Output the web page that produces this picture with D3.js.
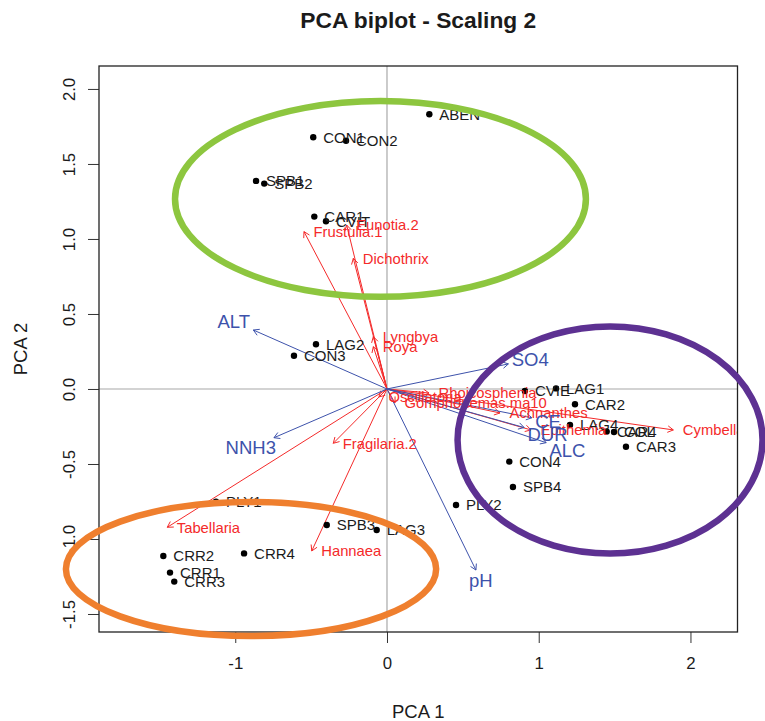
<!DOCTYPE html>
<html>
<head>
<meta charset="utf-8">
<script src="https://cdn.jsdelivr.net/npm/d3@7"></script>
<style>
  body { margin: 0; background: #fff; }
  svg { display: block; font-family: "Liberation Sans", Arial, sans-serif; }
</style>
</head>
<body>
<svg id="chart" width="765" height="721"></svg>
<script>
// ---- Site scores (scaling 2) ----
const siteNames = ["ABEN","CON1","CON2","SPB1","SPB2","CAR1","CVIT","LAG2","CON3",
  "CVIE","LAG1","CAR2","LAG4","CAR4","COL","CAR3","CON4","SPB4","PLY2",
  "PLY1","SPB3","LAG3","CRR2","CRR4","CRR1","CRR3"];
const siteX = [0.279,-0.486,-0.270,-0.863,-0.809,-0.479,-0.402,-0.468,-0.613,
  0.909,1.114,1.239,1.206,1.448,1.496,1.575,0.806,0.830,0.455,
  -1.127,-0.397,-0.068,-1.474,-0.942,-1.430,-1.402];
const siteY = [1.831,1.678,1.655,1.387,1.369,1.149,1.118,0.298,0.222,
  -0.013,0.004,-0.102,-0.240,-0.284,-0.287,-0.385,-0.484,-0.653,-0.773,
  -0.751,-0.907,-0.940,-1.113,-1.096,-1.224,-1.284];

// ---- Species scores (arrows) ----
const speciesNames = ["Frustulia.1","Eunotia.2","Dichothrix","Lyngbya","Roya",
  "Rhoicosphenia","Oscillatoria","Gomphonemas.ma10","Achnanthes","Epithemia",
  "Cymbella","Fragilaria.2","Tabellaria","Hannaea"];
const speciesX = [-0.547,-0.266,-0.222,-0.090,-0.090,
  0.277,-0.053,0.053,0.745,0.949,
  1.887,-0.354,-1.448,-0.496];
const speciesY = [1.049,1.093,0.871,0.349,0.282,
  -0.027,-0.053,-0.093,-0.160,-0.273,
  -0.273,-0.362,-0.922,-1.080];

// ---- Environmental variables (fitted vectors) ----
const envNames = ["ALT","SO4","CE","DUR","ALC","pH","NNH3"];
const envX = [-0.881,0.800,0.955,0.904,1.049,0.586,-0.745];
const envY = [0.393,0.167,-0.192,-0.257,-0.358,-1.207,-0.325];

// ---- Site groups outlined by ellipses (centre and semi-axes in score units) ----
const groupNames = ["alta","calcarea","crr"];
const groupCX = [-0.043,1.470,-0.896];
const groupCY = [1.267,-0.340,-1.200];
const groupRX = [1.354,1.005,1.220];
const groupRY = [0.653,0.757,0.447];
const groupColors = ["#8dc63f","#5d3192","#ef7f2e"];

// ---- Axis ticks ----
const xTicks = [-1, 0, 1, 2];
const yTicks = [-1.5, -1.0, -0.5, 0.0, 0.5, 1.0, 1.5, 2.0];

// ---- Layout ----
const W = 765, H = 721;
const plot = { left: 99, right: 737.5, top: 66, bottom: 632 };
const xDomain = [-1.898, 2.310];
const yDomain = [-1.620, 2.153];

const BLUE = "#3d52ab";
const RED = "#f42a2a";
const INK = "#1b1b1b";

const svg = d3.select("#chart");
svg.append("rect").attr("width", W).attr("height", H).attr("fill", "#fff");

const x = d3.scaleLinear().domain(xDomain).range([plot.left, plot.right]);
const y = d3.scaleLinear().domain(yDomain).range([plot.bottom, plot.top]);

svg.append("defs").append("clipPath").attr("id", "plotClip")
  .append("rect")
  .attr("x", plot.left).attr("y", plot.top)
  .attr("width", plot.right - plot.left).attr("height", plot.bottom - plot.top);

// Title
svg.append("text")
  .attr("x", (plot.left + plot.right) / 2).attr("y", 28)
  .attr("text-anchor", "middle")
  .attr("font-size", 22.8).attr("font-weight", "bold").attr("fill", INK)
  .text("PCA biplot - Scaling 2");

// Axes
const gx = svg.append("g").attr("transform", `translate(0,${plot.bottom})`)
  .call(d3.axisBottom(x).tickValues(xTicks).tickSize(11).tickPadding(14)
    .tickFormat(d => String(d)));
gx.select(".domain").remove();
gx.selectAll(".tick line").attr("stroke", "#333");
gx.selectAll(".tick text").attr("font-size", 16.8).attr("fill", INK)
  .attr("font-family", "Liberation Sans, Arial, sans-serif");

const gy = svg.append("g").attr("transform", `translate(${plot.left},0)`)
  .call(d3.axisLeft(y).tickValues(yTicks).tickSize(11)
    .tickFormat(d => d.toFixed(1)));
gy.select(".domain").remove();
gy.selectAll(".tick line").attr("stroke", "#333");
gy.selectAll(".tick text")
  .attr("x", 0).attr("dy", 0)
  .attr("transform", "translate(-24.5,0) rotate(-90)")
  .attr("text-anchor", "middle")
  .attr("font-size", 16.8).attr("fill", INK)
  .attr("font-family", "Liberation Sans, Arial, sans-serif");

svg.append("text")
  .attr("x", (plot.left + plot.right) / 2).attr("y", 718)
  .attr("text-anchor", "middle").attr("font-size", 18.5).attr("fill", INK)
  .text("PCA 1");
svg.append("text")
  .attr("transform", `translate(27,${(plot.top + plot.bottom) / 2}) rotate(-90)`)
  .attr("text-anchor", "middle").attr("font-size", 18.5).attr("fill", INK)
  .text("PCA 2");

// Plot contents (clipped to the frame)
const g = svg.append("g").attr("clip-path", "url(#plotClip)");

// Reference lines through the origin
g.append("line")
  .attr("x1", plot.left).attr("x2", plot.right)
  .attr("y1", y(0)).attr("y2", y(0))
  .attr("stroke", "#a8a8a8").attr("stroke-width", 1.2);
g.append("line")
  .attr("x1", x(0)).attr("x2", x(0))
  .attr("y1", plot.top).attr("y2", plot.bottom)
  .attr("stroke", "#a8a8a8").attr("stroke-width", 1.2);

// Arrow helper: shaft from the origin plus an open head
function arrowPath(tx, ty) {
  const ox = x(0), oy = y(0);
  const a = Math.atan2(ty - oy, tx - ox);
  const len = 6.5, spread = Math.PI / 6;
  const h1x = tx - len * Math.cos(a - spread), h1y = ty - len * Math.sin(a - spread);
  const h2x = tx - len * Math.cos(a + spread), h2y = ty - len * Math.sin(a + spread);
  return `M${ox},${oy}L${tx},${ty}M${h1x},${h1y}L${tx},${ty}L${h2x},${h2y}`;
}

// Species arrows
const species = speciesNames.map((n, i) => ({ name: n, x: speciesX[i], y: speciesY[i] }));
g.selectAll("path.sp").data(species).join("path").attr("class", "sp")
  .attr("d", d => arrowPath(x(d.x), y(d.y)))
  .attr("fill", "none").attr("stroke", RED).attr("stroke-width", 1);

// Environmental arrows
const env = envNames.map((n, i) => ({ name: n, x: envX[i], y: envY[i] }));
g.selectAll("path.env").data(env).join("path").attr("class", "env")
  .attr("d", d => arrowPath(x(d.x), y(d.y)))
  .attr("fill", "none").attr("stroke", BLUE).attr("stroke-width", 1);

// Sites
const sites = siteNames.map((n, i) => ({ name: n, x: siteX[i], y: siteY[i] }));
g.selectAll("circle.site").data(sites).join("circle").attr("class", "site")
  .attr("cx", d => x(d.x)).attr("cy", d => y(d.y)).attr("r", 3.2)
  .attr("fill", "#000");
g.selectAll("text.site").data(sites).join("text").attr("class", "site")
  .attr("x", d => x(d.x) + 10).attr("y", d => y(d.y)).attr("dy", "0.36em")
  .attr("font-size", 15).attr("fill", INK)
  .text(d => d.name);

// Species labels to the right of their arrow tips
g.selectAll("text.sp").data(species).join("text").attr("class", "sp")
  .attr("x", d => x(d.x) + 9.5).attr("y", d => y(d.y)).attr("dy", "0.36em")
  .attr("font-size", 14.8).attr("fill", RED)
  .text(d => d.name);

// Environmental labels, pushed out along the arrow so the text clears its tip
const envText = g.selectAll("text.env").data(env).join("text").attr("class", "env")
  .attr("font-size", 18.5).attr("fill", BLUE).attr("text-anchor", "middle")
  .attr("dy", "0.36em")
  .text(d => d.name);
envText.each(function (d) {
  const w = this.getComputedTextLength();
  const h = 0.72 * 18.5;
  const tx = x(d.x), ty = y(d.y);
  const dx = tx - x(0), dy = ty - y(0);
  const b = dy / dx;
  let offX = Math.sign(dx) * (w / 2 + h / 4);
  let offY = 0.75 * h * Math.sign(dy);
  const move = offY / b;
  if (isFinite(move) && Math.abs(move) <= Math.abs(offX)) offX = move;
  else offY = b * offX;
  d3.select(this).attr("x", tx + offX).attr("y", ty + offY);
});

// Frame
svg.append("rect")
  .attr("x", plot.left).attr("y", plot.top)
  .attr("width", plot.right - plot.left).attr("height", plot.bottom - plot.top)
  .attr("fill", "none").attr("stroke", "#222").attr("stroke-width", 1.3);

// Group ellipses drawn over everything
const groups = groupNames.map((n, i) => ({
  name: n, cx: groupCX[i], cy: groupCY[i], rx: groupRX[i], ry: groupRY[i], color: groupColors[i]
}));
svg.selectAll("ellipse.grp").data(groups).join("ellipse").attr("class", "grp")
  .attr("cx", d => x(d.cx)).attr("cy", d => y(d.cy))
  .attr("rx", d => x(d.cx + d.rx) - x(d.cx))
  .attr("ry", d => y(d.cy) - y(d.cy + d.ry))
  .attr("fill", "none").attr("stroke", d => d.color).attr("stroke-width", 6.5);
</script>
</body>
</html>
